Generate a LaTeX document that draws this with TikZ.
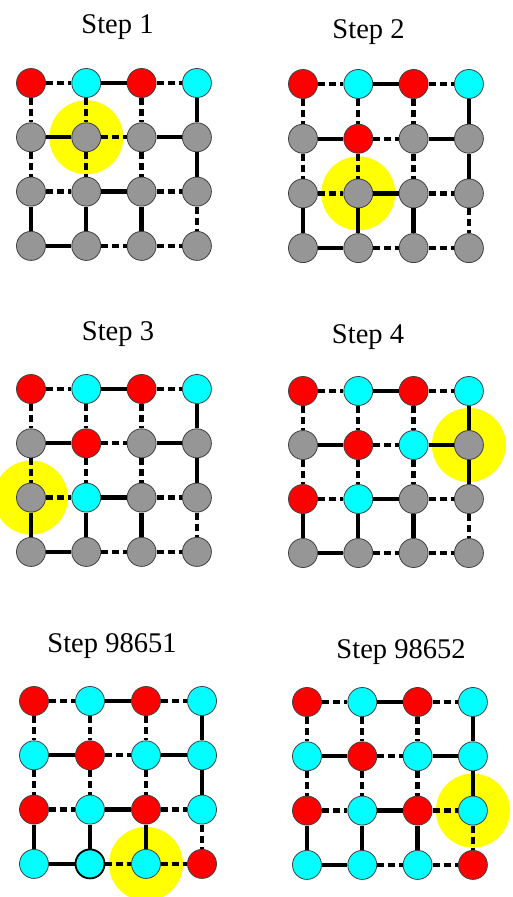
\documentclass[tikz,border=0pt]{standalone}
\usepackage{fontspec}
\setmainfont{Liberation Serif}
\usetikzlibrary{backgrounds}
\definecolor{nred}{RGB}{255,0,0}
\definecolor{ncyan}{RGB}{0,255,255}
\definecolor{ngray}{RGB}{150,150,150}
\definecolor{hyel}{RGB}{255,255,0}
\tikzset{
  site/.style={circle, draw=black!75, line width=0.8pt, minimum size=29pt, inner sep=0pt},
  R/.style={site, fill=nred},
  C/.style={site, fill=ncyan},
  G/.style={site, fill=ngray},
  S/.style={line width=4.3pt},
  D/.style={line width=4.3pt, dash pattern=on 7pt off 4pt},
  title/.style={anchor=base, font=\fontsize{28.5}{30}\selectfont},
  halo/.style={fill=hyel}
}
\newcommand\latticepanel[8]{%
  \foreach \k [count=\i from 0] in {#8} {
    \pgfmathtruncatemacro\cc{mod(\i,4)}
    \pgfmathtruncatemacro\rr{div(\i,4)}
    \node[\k] (#1-\cc-\rr) at ({#2+\cc*#3},{#4+\rr*#5}) {};
  }
  \begin{scope}[on background layer]
    \fill[halo] ({#2+#6*#3},{#4+#7*#5}) circle[radius=37];
  \end{scope}
  \foreach \r/\ea/\eb/\ec in {0/D/S/D,1/S/D/S,2/D/S/D,3/S/D/D} {
    \draw[\ea] (#1-0-\r) -- (#1-1-\r);
    \draw[\eb] (#1-1-\r) -- (#1-2-\r);
    \draw[\ec] (#1-2-\r) -- (#1-3-\r);
  }
  \foreach \q/\ea/\eb/\ec in {0/D/D/S,1/D/D/S,2/D/D/S,3/S/S/D} {
    \draw[\ea] (#1-\q-0) -- (#1-\q-1);
    \draw[\eb] (#1-\q-1) -- (#1-\q-2);
    \draw[\ec] (#1-\q-2) -- (#1-\q-3);
  }
}
\begin{document}
\begin{tikzpicture}[x=1pt, y=-1pt]
  \useasboundingbox (0,0) rectangle (512,897);
  \clip (0,0) rectangle (512,897);
  \node[title] (t1) at (117.5,33) {Step 1};
  \node[title] (t2) at (368.5,38) {Step 2};
  \node[title] (t3) at (118,340) {Step 3};
  \node[title] (t4) at (368,343) {Step 4};
  \node[title] (t5) at (112,652) {Step 98651};
  \node[title] (t6) at (401,658) {Step 98652};
  \latticepanel{p1}{31}{55.3}{83}{54.3}{1}{1}{R,C,R,C,G,G,G,G,G,G,G,G,G,G,G,G}
  \latticepanel{p2}{303}{55.3}{84}{54.7}{1}{2}{R,C,R,C,G,R,G,G,G,G,G,G,G,G,G,G}
  \latticepanel{p3}{31}{55.3}{389}{54.3}{0}{2}{R,C,R,C,G,R,G,G,G,C,G,G,G,G,G,G}
  \latticepanel{p4}{303}{55.3}{391}{54}{3}{1}{R,C,R,C,G,R,C,G,R,C,G,G,G,G,G,G}
  \latticepanel{p5}{34}{56}{701}{54.3}{2}{3}{R,C,R,C,C,R,C,C,R,C,R,C,C,C,C,R}
  \latticepanel{p6}{307}{55.3}{702}{54.3}{3}{2}{R,C,R,C,C,R,C,C,R,C,R,C,C,C,C,R}
  \draw[line width=1.8pt] (p5-1-3) circle[radius=14.5];
\end{tikzpicture}
\end{document}
